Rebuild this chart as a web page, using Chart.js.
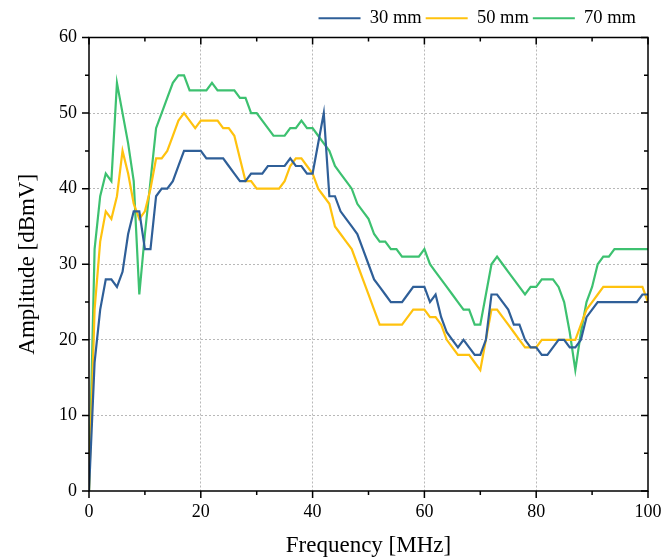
<!DOCTYPE html>
<html>
<head>
<meta charset="utf-8">
<script src="https://cdn.jsdelivr.net/npm/chart.js@4.4.1/dist/chart.umd.min.js"></script>
<style>
  html, body { margin: 0; padding: 0; background: #fff; }
  #wrap { width: 662px; height: 560px; }
</style>
</head>
<body>
<div id="wrap"><canvas id="myChart" width="662" height="560"></canvas></div>
<script>
// frequency in MHz
const freq = [
  0, 1, 2, 3, 4, 5, 6, 7, 8, 9, 10, 11, 12, 13, 14, 15, 16, 17, 18, 19, 20,
  21, 22, 23, 24, 25, 26, 27, 28, 29, 30, 31, 32, 33, 34, 35, 36, 37, 38, 39, 40,
  41, 42, 43, 44, 45, 46, 47, 48, 49, 50, 51, 52, 53, 54, 55, 56, 57, 58, 59, 60,
  61, 62, 63, 64, 65, 66, 67, 68, 69, 70, 71, 72, 73, 74, 75, 76, 77, 78, 79, 80,
  81, 82, 83, 84, 85, 86, 87, 88, 89, 90, 91, 92, 93, 94, 95, 96, 97, 98, 99, 100
];

const amp30 = [
  0, 17, 24, 28, 28, 27, 29, 34, 37, 37, 32, 32, 39, 40, 40, 41, 43, 45, 45, 45, 45,
  44, 44, 44, 44, 43, 42, 41, 41, 42, 42, 42, 43, 43, 43, 43, 44, 43, 43, 42, 42,
  46, 50, 39, 39, 37, 36, 35, 34, 32, 30, 28, 27, 26, 25, 25, 25, 26, 27, 27, 27,
  25, 26, 23, 21, 20, 19, 20, 19, 18, 18, 20, 26, 26, 25, 24, 22, 22, 20, 19, 19,
  18, 18, 19, 20, 20, 19, 19, 20, 23, 24, 25, 25, 25, 25, 25, 25, 25, 25, 26, 26
];

const amp50 = [
  0, 24, 33, 37, 36, 39, 45, 42, 38, 36, 37, 40, 44, 44, 45, 47, 49, 50, 49, 48, 49,
  49, 49, 49, 48, 48, 47, 44, 41, 41, 40, 40, 40, 40, 40, 41, 43, 44, 44, 43, 42,
  40, 39, 38, 35, 34, 33, 32, 30, 28, 26, 24, 22, 22, 22, 22, 22, 23, 24, 24, 24,
  23, 23, 22, 20, 19, 18, 18, 18, 17, 16, 20, 24, 24, 23, 22, 21, 20, 19, 19, 19,
  20, 20, 20, 20, 20, 20, 20, 22, 24, 25, 26, 27, 27, 27, 27, 27, 27, 27, 27, 25
];

const amp70 = [
  0, 32, 39, 42, 41, 54, 50, 46, 41, 26, 34, 41, 48, 50, 52, 54, 55, 55, 53, 53, 53,
  53, 54, 53, 53, 53, 53, 52, 52, 50, 50, 49, 48, 47, 47, 47, 48, 48, 49, 48, 48,
  47, 46, 45, 43, 42, 41, 40, 38, 37, 36, 34, 33, 33, 32, 32, 31, 31, 31, 31, 32,
  30, 29, 28, 27, 26, 25, 24, 24, 22, 22, 26, 30, 31, 30, 29, 28, 27, 26, 27, 27,
  28, 28, 28, 27, 25, 21, 16, 21, 25, 27, 30, 31, 31, 32, 32, 32, 32, 32, 32, 32
];

const seriesNames = ["30 mm", "50 mm", "70 mm"];
const seriesColors = ["#2f5f98", "#ffc20e", "#3dc170"];

const serif = "'Liberation Serif', 'Times New Roman', serif";

const toPoints = (vals) => vals.map((v, i) => ({ x: freq[i], y: v }));

// frame box + major/minor ticks on all four sides
const framePlugin = {
  id: "frame",
  afterLayout(chart) {
    // pull the legend in a little from the right edge
    chart.legend.right -= 22;
  },
  afterDraw(chart) {
    const { ctx, chartArea, scales } = chart;
    const { left, right, top, bottom } = chartArea;
    ctx.save();
    ctx.strokeStyle = "#000";
    ctx.lineWidth = 1.5;
    ctx.strokeRect(left, top, right - left, bottom - top);
    ctx.beginPath();
    for (let v = 0; v <= 100; v += 10) {
      const px = scales.x.getPixelForValue(v);
      const len = v % 20 === 0 ? 7 : 4;
      ctx.moveTo(px, bottom);
      ctx.lineTo(px, bottom + len);
      ctx.moveTo(px, top);
      ctx.lineTo(px, top + len);
    }
    for (let v = 0; v <= 60; v += 5) {
      const py = scales.y.getPixelForValue(v);
      const len = v % 10 === 0 ? 7 : 4;
      ctx.moveTo(left, py);
      ctx.lineTo(left - len, py);
      ctx.moveTo(right, py);
      ctx.lineTo(right - len, py);
    }
    ctx.stroke();
    ctx.restore();
  },
};

const ctx = document.getElementById("myChart").getContext("2d");
const myChart = new Chart(ctx, {
  type: "line",
  data: {
    datasets: seriesNames.map((name, k) => ({
      label: name,
      data: toPoints([amp30, amp50, amp70][k]),
      borderColor: seriesColors[k],
      backgroundColor: seriesColors[k],
      borderWidth: 2.2,
      pointRadius: 0,
      tension: 0,
    })),
  },
  options: {
    responsive: false,
    animation: false,
    layout: { padding: { left: 10, right: 0, top: 5, bottom: 0 } },
    plugins: {
      legend: {
        position: "top",
        align: "end",
        labels: {
          usePointStyle: true,
          pointStyle: "line",
          pointStyleWidth: 42,
          color: "#000",
          padding: 4,
          font: { family: serif, size: 18.5 },
        },
      },
      tooltip: { enabled: false },
    },
    scales: {
      x: {
        type: "linear",
        min: 0,
        max: 100,
        afterFit: (scale) => {
          scale.height = 69;
          scale.paddingRight = 14;
        },
        ticks: {
          stepSize: 10,
          autoSkip: false,
          maxRotation: 0,
          padding: 10,
          color: "#000",
          font: { family: serif, size: 18 },
          callback: (v) => (v % 20 === 0 ? v : ""),
        },
        grid: {
          drawTicks: false,
          lineWidth: 1,
          color: (c) => {
            const v = c.tick ? c.tick.value : -1;
            return v > 0 && v < 100 && v % 20 === 0 ? "#b8b8b8" : "rgba(0,0,0,0)";
          },
        },
        border: { display: false, dash: [2, 2] },
        title: {
          display: true,
          text: "Frequency [MHz]",
          color: "#000",
          padding: { top: 0, bottom: 0 },
          font: { family: serif, size: 23 },
        },
      },
      y: {
        min: 0,
        max: 60,
        afterFit: (scale) => { scale.width = 79; },
        ticks: {
          stepSize: 5,
          autoSkip: false,
          padding: 12,
          color: "#000",
          font: { family: serif, size: 18 },
          callback: (v) => (v % 10 === 0 ? v : ""),
        },
        grid: {
          drawTicks: false,
          lineWidth: 1,
          color: (c) => {
            const v = c.tick ? c.tick.value : -1;
            return v > 0 && v < 60 && v % 10 === 0 ? "#b8b8b8" : "rgba(0,0,0,0)";
          },
        },
        border: { display: false, dash: [2, 2] },
        title: {
          display: true,
          text: "Amplitude [dBmV]",
          color: "#000",
          padding: { top: 4, bottom: 4 },
          font: { family: serif, size: 23 },
        },
      },
    },
  },
  plugins: [framePlugin],
});
</script>
</body>
</html>
